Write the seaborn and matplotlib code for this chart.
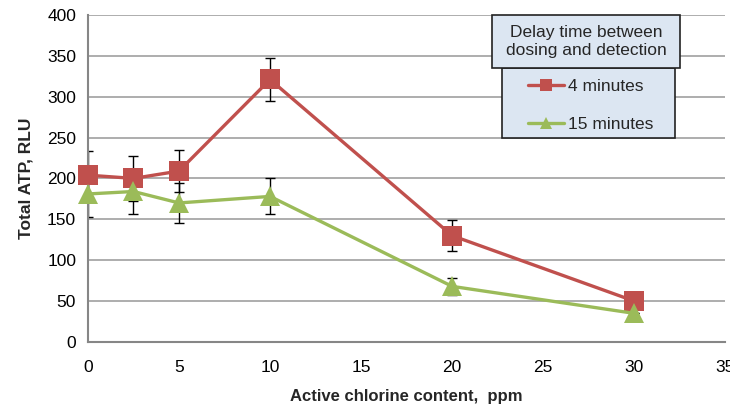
import matplotlib
matplotlib.use('Agg')
import matplotlib.pyplot as plt
from matplotlib.lines import Line2D
from matplotlib.patches import Rectangle
import seaborn as sns
import pandas as pd

chlorine = [0, 2.5, 5, 10, 20, 30]
atp_4min = [204, 200, 209, 321, 130, 50]
err_4min = [30, 28, 26, 26, 19, 0]
atp_15min = [181, 184, 170, 178, 68, 35]
err_15min = [28, 27, 25, 22, 10, 0]

series = ['4 minutes', '15 minutes']
colors = {'4 minutes': '#c0504d', '15 minutes': '#9bbb59'}
markers = {'4 minutes': 's', '15 minutes': '^'}

df = pd.DataFrame({
    'chlorine': chlorine * 2,
    'atp': atp_4min + atp_15min,
    'err': err_4min + err_15min,
    'delay': [series[0]] * len(chlorine) + [series[1]] * len(chlorine),
})

sns.set_style('white')
plt.rcParams['font.family'] = ['Liberation Sans', 'DejaVu Sans']

fig = plt.figure(figsize=(7.3, 4.13), dpi=100)
ax = fig.add_axes([0.1205, 0.172, 0.873, 0.792])

for name in series:
    sub = df[df['delay'] == name]
    ax.errorbar(sub['chlorine'], sub['atp'], yerr=sub['err'], fmt='none',
                ecolor='black', elinewidth=1, capsize=3.5, capthick=1, zorder=2)

for i, name in enumerate(series):
    sub = df[df['delay'] == name]
    sns.lineplot(data=sub, x='chlorine', y='atp', color=colors[name],
                 marker=markers[name], markersize=14 if name == '4 minutes' else 15,
                 markeredgewidth=0, linewidth=2.4, ax=ax, zorder=3 + i,
                 legend=False, clip_on=False)

ax.set_xlim(0, 35)
ax.set_ylim(0, 400)
ax.set_xticks(range(0, 36, 5))
ax.set_yticks(range(0, 401, 50))
ax.yaxis.grid(True, color='#a0a0a0', linewidth=1.2)
ax.set_axisbelow(True)
for s in ['top', 'right']:
    ax.spines[s].set_visible(False)
for s in ['left', 'bottom']:
    ax.spines[s].set_color('#868686')
    ax.spines[s].set_linewidth(1.5)
ax.tick_params(axis='both', direction='out', length=5, width=1, color='#868686',
               labelsize=12.5, labelcolor='black')
ax.tick_params(axis='x', pad=8)
ax.set_xlabel('Active chlorine content,  ppm', fontsize=12, fontweight='bold', labelpad=10)
ax.set_ylabel('Total ATP, RLU', fontsize=12.5, fontweight='bold', labelpad=10)

# legend title box and entries box
ax.add_patch(Rectangle((0.634, 0.838), 0.295, 0.162, transform=ax.transAxes,
                       facecolor='#dce6f2', edgecolor='#222222', linewidth=1.2,
                       clip_on=False, zorder=10))
ax.add_patch(Rectangle((0.65, 0.624), 0.2716, 0.214, transform=ax.transAxes,
                       facecolor='#dce6f2', edgecolor='#222222', linewidth=1.2,
                       clip_on=False, zorder=9))
ax.text(0.782, 0.919, 'Delay time between\ndosing and detection', transform=ax.transAxes,
        ha='center', va='center', fontsize=12.5, linespacing=1.25, zorder=11)

handles = [Line2D([0], [0], color=colors[n], marker=markers[n], markersize=9,
                  markeredgewidth=0, linewidth=2.4) for n in series]
leg = ax.legend(handles, series, loc='upper left', bbox_to_anchor=(0.69, 0.803),
                frameon=False, fontsize=12.5, handlelength=2.1,
                handletextpad=0.25, labelspacing=1.3, borderpad=0, borderaxespad=0)
leg.set_zorder(12)

fig.savefig('out.png', dpi=100)
